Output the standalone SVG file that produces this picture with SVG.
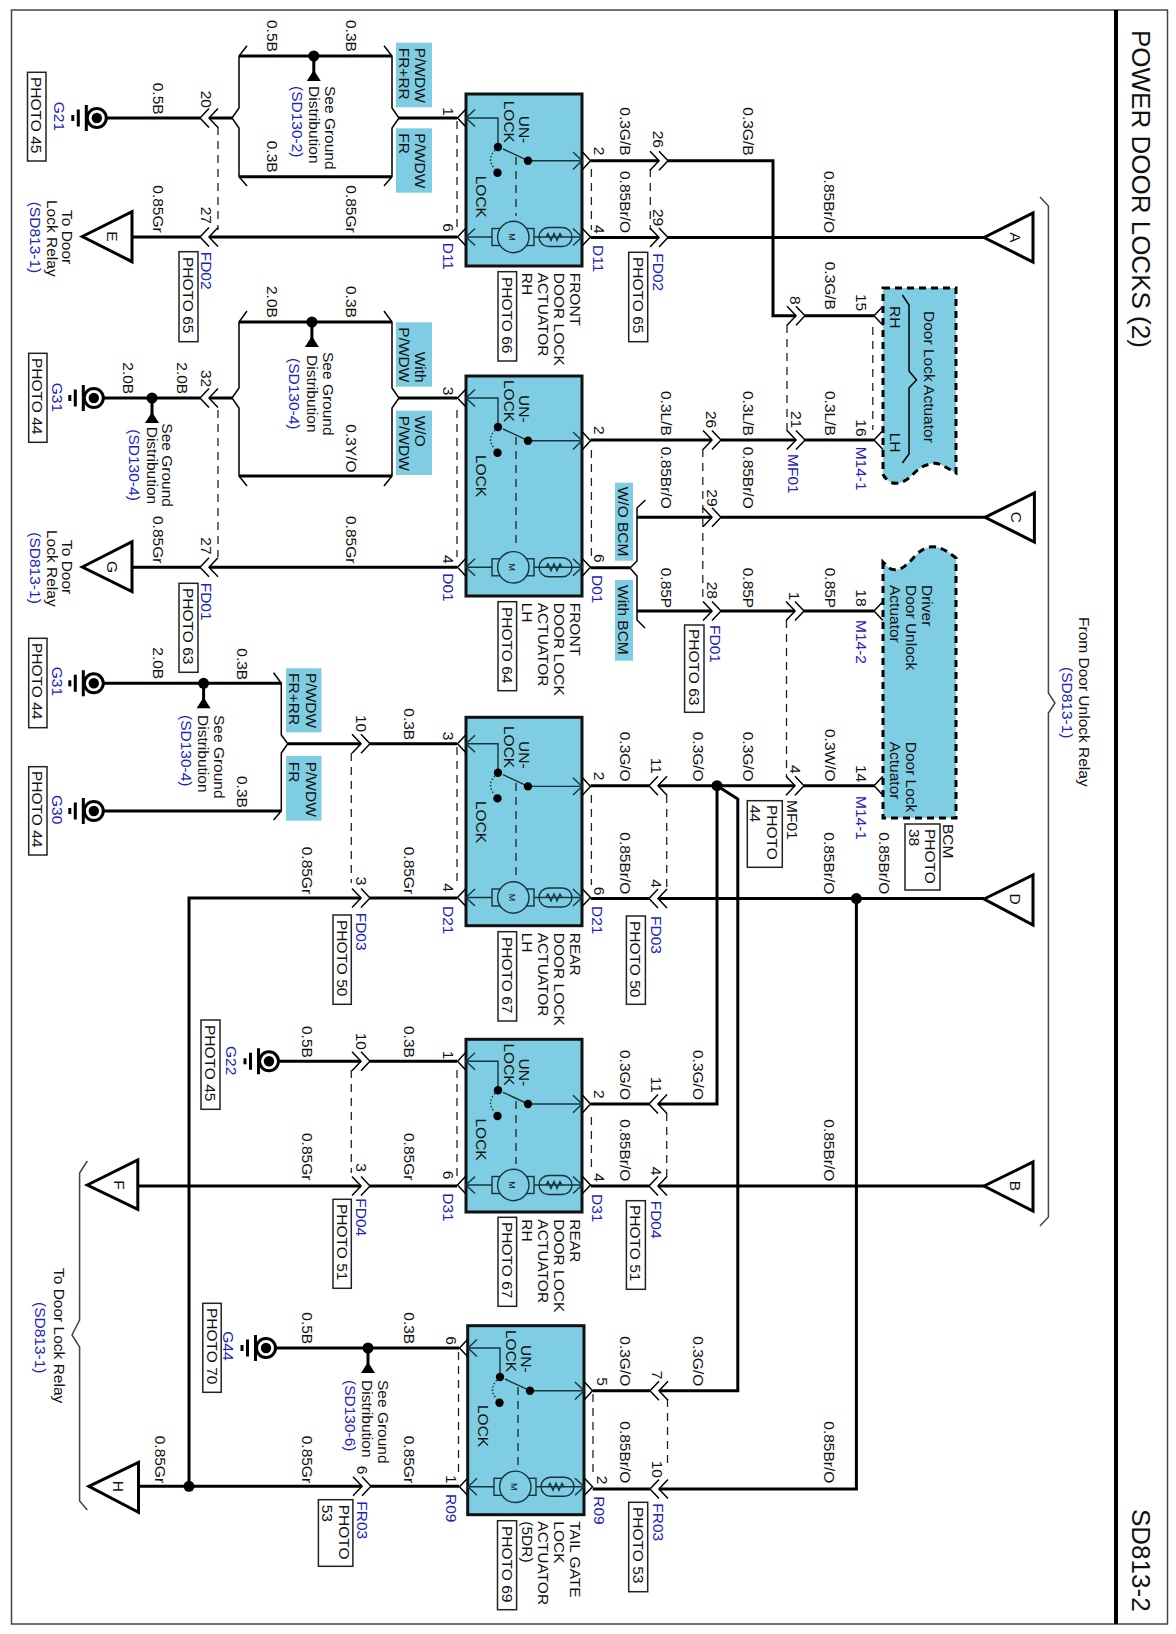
<svg xmlns="http://www.w3.org/2000/svg" width="1176" height="1634" viewBox="0 0 1176 1634">
<style>
text{font-family:"Liberation Sans",Arial,sans-serif;font-size:15.5px;fill:#111}
.b{fill:#2222bb}
.h{font-size:26px}
.w{fill:none;stroke:#000;stroke-width:3}
.n{fill:none;stroke:#000;stroke-width:1.5}
.g{fill:none;stroke:#444;stroke-width:1.5}
.d{fill:none;stroke:#222;stroke-width:1.3;stroke-dasharray:8 6}
.p{fill:#fff;stroke:#222;stroke-width:1.5}
.a{fill:#7fcde2}
.box{fill:#7fcde2;stroke:#111;stroke-width:3}
.dsh{fill:#7fcde2;stroke:#000;stroke-width:3;stroke-dasharray:7 5}
.tri{fill:#fff;stroke:#000;stroke-width:3}
.i{fill:none;stroke:#16343f;stroke-width:1.4}
</style>
<defs>
<g id="cr" class="n"><path d="M-9,-9.5L0,0L-9,9.5M0,-9.5L9,0L0,9.5"/></g>
<g id="cl" class="n"><path d="M9,-9.5L0,0L9,9.5M18,-9.5L9,0L18,9.5"/></g>
<path id="rc" class="n" d="M9,-9.5L0,0L9,9.5"/>
<g id="gnd"><circle r="9.5" fill="#fff" stroke="#000" stroke-width="3"/><circle r="5.2" fill="#000"/><path class="w" d="M-10.5,-13V13M-18.5,-8.5V8.5"/><path class="w" d="M-24,-3V3"/></g>
<g id="sd"><path class="w" d="M0,0V20"/><circle r="5.5" fill="#000"/><path d="M0,14L7,25H-7Z" fill="#000"/></g>
<g id="sw">
<path class="i" d="M0,0H32V29M62,42.7L37,31M62,42.7H116"/>
<path class="i" d="M9,-8.5L0,0L9,8.5M107,34L116,42.7L107,51.4"/>
<path class="n" d="M-0.5,-8.5L-8.5,0L-0.5,8.5M116.5,34L124.5,42.7L116.5,51.4"/>
<path d="M29,32Q20,42 29,51" fill="none" stroke="#16343f" stroke-width="1.4" stroke-dasharray="1.5 2"/>
<circle cx="32" cy="29" r="4.2"/><circle cx="31.5" cy="54.7" r="4.2"/><circle cx="62" cy="42.7" r="4.2"/>
</g>
<g id="mt">
<path class="i" d="M0,0H26M68,0H116"/>
<path class="i" d="M9,-8.5L0,0L9,8.5M107,-8.5L116,0L107,8.5"/>
<path class="n" d="M-0.5,-8.5L-8.5,0L-0.5,8.5M116.5,-8.5L124.5,0L116.5,8.5"/>
<rect class="i" x="26" y="-8.5" width="42" height="17"/>
<circle class="a" cx="47.3" r="15.7" stroke="#16343f" stroke-width="1.4"/>
<rect class="i" x="73" y="-9.5" width="33" height="19" rx="9.5"/>
<path class="i" d="M80,0L82,-3.5L85,3.5L88,-3.5L91,3.5L94,-3.5L96,0"/>
</g>
</defs>
<rect width="1176" height="1634" fill="#fff"/>
<g id="frame">
<rect x="11.5" y="10" width="1156" height="1614" fill="none" stroke="#444" stroke-width="1.5"/>
<path d="M1116,10V1624" fill="none" stroke="#000" stroke-width="4"/>
<text class="h" transform="translate(1131.5 30)rotate(90)">POWER DOOR LOCKS (2)</text>
<text class="h" transform="translate(1131.5 1509)rotate(90)">SD813-2</text>
</g>
<g id="annotations">
<path class="g" d="M1040,197L1048.4,206V693L1055,703L1048.4,713V1217L1040,1226"/>
<text transform="translate(1079 617)rotate(90)">From Door Unlock Relay</text>
<text class="b" transform="translate(1062 667)rotate(90)">(SD813-1)</text>
<path class="g" d="M87.3,1161L79.6,1173V1320L72,1335L79.6,1347V1501L87.3,1510"/>
<text transform="translate(53.6 1268)rotate(90)">To Door Lock Relay</text>
<text class="b" transform="translate(35.2 1302)rotate(90)">(SD813-1)</text>
<g id="optcodes">
<rect class="a" x="396" y="42.7" width="36" height="64.6"/><text transform="translate(415 47.7)rotate(90)">P/WDW</text><text transform="translate(399 47.7)rotate(90)">FR+RR</text>
<rect class="a" x="396" y="128.3" width="36" height="64.4"/><text transform="translate(415 133.3)rotate(90)">P/WDW</text><text transform="translate(399 133.3)rotate(90)">FR</text>
<rect class="a" x="396" y="322.3" width="36" height="64.4"/><text transform="translate(415 351.7)rotate(90)">With</text><text transform="translate(399 327.3)rotate(90)">P/WDW</text>
<rect class="a" x="396" y="410.7" width="36" height="64.3"/><text transform="translate(415 415.7)rotate(90)">W/O</text><text transform="translate(399 415.7)rotate(90)">P/WDW</text>
<rect class="a" x="286" y="668.3" width="35.5" height="64"/><text transform="translate(306 673)rotate(90)">P/WDW</text><text transform="translate(289 673)rotate(90)">FR+RR</text>
<rect class="a" x="286" y="756" width="35.5" height="64.7"/><text transform="translate(306 761.7)rotate(90)">P/WDW</text><text transform="translate(289 761.7)rotate(90)">FR</text>
<rect class="a" x="615" y="482.7" width="18" height="78"/><text transform="translate(618 486.7)rotate(90)">W/O BCM</text>
<rect class="a" x="615" y="580" width="18" height="80.7"/><text transform="translate(618 585)rotate(90)">With BCM</text>
</g>
</g>
<g id="connectors">
<path class="w" d="M107,118H200M209.7,118H232M399,118H457M239,56H392M239,176.7H392"/>
<path class="w" d="M132,237H200M209.7,237H457"/>
<path class="w" d="M590.7,160.7H659M668,160.7H773V315.7H796M805,315.7H874"/>
<path class="w" d="M590.7,237.5H659M668,237.5H984"/>
<path class="w" d="M104,398H200M209.7,398H232M399,398H457M239,322H392M239,476H392"/>
<path class="w" d="M132,567.3H200M209.7,567.3H457"/>
<path class="w" d="M590.7,440H712M721,440H796M805,440H874"/>
<path class="w" d="M590.7,567.7H630M637,517.3H712M721,517.3H985M637,611H712M721,611H795M804,611H874"/>
<path class="w" d="M104,683.3H281.3M287.8,743.7H361M370,743.7H457M104,811H281.3"/>
<path class="w" d="M590.7,785.7H649M658,785.7H795M804,785.7H874"/>
<path class="w" d="M717,785.7V1104H658M717,785.7L737.8,799V1390.7H659"/>
<path class="w" d="M590.7,1104H649M592.7,1390.7H650"/>
<path class="w" d="M189,1486.3V898H361M370,898H457"/>
<path class="w" d="M590.7,898.6H649M658,898.6H984M856.4,898.6V1489H659M592.7,1489H650"/>
<path class="w" d="M280,1061.3H361M370,1061.3H457"/>
<path class="w" d="M137.8,1186H361M370,1186H457M590.7,1186H649M658,1186H984"/>
<path class="w" d="M277,1348H459M138.5,1486.3H362M371,1486.3H459"/>
<path class="n" d="M247,45.7L239,56V108L232,118L239,128V176.7L247,186M384,45.7L392,56V108L399,118L392,128V176.7L384,186"/>
<path class="n" d="M247,311L239,322V388L232,398L239,408V476L247,486M384,311L392,322V388L399,398L392,408V476L384,486"/>
<path class="n" d="M273.6,672.7L281.3,683.3V735L287.8,743.7L281.3,753V811L273.6,820"/>
<path class="n" d="M645.4,500L637,508V561L630,568L637,576V620L645,628"/>
<path class="d" d="M218,127V230M457,121V233M591.4,169V230M650.3,169V230M218,410V557M457,410V557M591.4,450V560M702.8,449V602M787,325V432M872.8,327V430M786.5,620V777M351.3,753V883M457,747V887M591.4,795V885M666.7,795V892M351.3,1070V1173M457,1070V1177M591.4,1117V1168M666.7,1113V1177M458.5,1352V1476M593,1394V1476M667.5,1399V1464"/>
<use href="#cl" x="200" y="118"/><use href="#cl" x="200" y="237"/><use href="#cl" x="200" y="398"/><use href="#cl" x="200" y="567.3"/>
<use href="#cr" x="659" y="160.7"/><use href="#cr" x="659" y="237.5"/><use href="#cr" x="796" y="315.7"/><use href="#cr" x="712" y="440"/><use href="#cr" x="796" y="440"/><use href="#cr" x="712" y="517.3"/><use href="#cr" x="712" y="611"/><use href="#cr" x="795" y="611"/><use href="#cr" x="795" y="785.7"/>
<use href="#cl" x="649" y="785.7"/><use href="#cl" x="649" y="898.6"/><use href="#cl" x="649" y="1104"/><use href="#cl" x="649" y="1186"/><use href="#cl" x="650" y="1390.7"/><use href="#cl" x="650" y="1489"/>
<use href="#cr" x="361" y="743.7"/><use href="#cr" x="361" y="898"/><use href="#cr" x="361" y="1061.3"/><use href="#cr" x="361" y="1186"/><use href="#cr" x="362" y="1486.3"/>
<use href="#rc" x="874" y="315.7"/><use href="#rc" x="874" y="440"/><use href="#rc" x="874" y="611"/><use href="#rc" x="874" y="785.7"/>
<circle cx="717" cy="785.7" r="5.5"/><circle cx="856.4" cy="898.6" r="5.5"/><circle cx="189" cy="1486.3" r="5.5"/>
<g id="wirelabels">
<text transform="translate(153 82.7)rotate(90)">0.5B</text><text transform="translate(267 20)rotate(90)">0.5B</text><text transform="translate(345.6 20)rotate(90)">0.3B</text><text transform="translate(267 140.7)rotate(90)">0.3B</text><text transform="translate(345.6 185.3)rotate(90)">0.85Gr</text><text transform="translate(153 185.3)rotate(90)">0.85Gr</text>
<text transform="translate(201 90.7)rotate(90)">20</text><text transform="translate(201 206.7)rotate(90)">27</text><text class="b" transform="translate(201 251.7)rotate(90)">FD02</text>
<text transform="translate(620 107.3)rotate(90)">0.3G/B</text><text transform="translate(742.7 107.3)rotate(90)">0.3G/B</text><text transform="translate(653 130.7)rotate(90)">26</text><text transform="translate(620 171)rotate(90)">0.85Br/O</text><text transform="translate(824 171)rotate(90)">0.85Br/O</text><text transform="translate(653 209)rotate(90)">29</text><text class="b" transform="translate(653 253.3)rotate(90)">FD02</text>
<text transform="translate(824.5 261.7)rotate(90)">0.3G/B</text><text transform="translate(790 296)rotate(90)">8</text><text transform="translate(855.7 294)rotate(90)">15</text>
<text transform="translate(267 286)rotate(90)">2.0B</text><text transform="translate(345.6 286)rotate(90)">0.3B</text><text transform="translate(345.6 424.3)rotate(90)">0.3Y/O</text><text transform="translate(123.2 362.3)rotate(90)">2.0B</text><text transform="translate(176.8 362.3)rotate(90)">2.0B</text><text transform="translate(201 370)rotate(90)">32</text>
<text transform="translate(153 516)rotate(90)">0.85Gr</text><text transform="translate(345.6 516)rotate(90)">0.85Gr</text><text transform="translate(201 537.3)rotate(90)">27</text><text class="b" transform="translate(201 582.7)rotate(90)">FD01</text>
<text transform="translate(660.6 391)rotate(90)">0.3L/B</text><text transform="translate(742.7 391)rotate(90)">0.3L/B</text><text transform="translate(824.5 391)rotate(90)">0.3L/B</text><text transform="translate(705.5 411)rotate(90)">26</text><text transform="translate(791 411)rotate(90)">21</text><text transform="translate(856 419.3)rotate(90)">16</text><text class="b" transform="translate(788 454)rotate(90)">MF01</text><text class="b" transform="translate(855.7 446.7)rotate(90)">M14-1</text>
<text transform="translate(660.6 446.7)rotate(90)">0.85Br/O</text><text transform="translate(742.7 446.7)rotate(90)">0.85Br/O</text><text transform="translate(707.4 489.3)rotate(90)">29</text>
<text transform="translate(660.6 567.7)rotate(90)">0.85P</text><text transform="translate(742.7 567.7)rotate(90)">0.85P</text><text transform="translate(824.5 567.7)rotate(90)">0.85P</text><text transform="translate(707.4 581.7)rotate(90)">28</text><text transform="translate(789 591.7)rotate(90)">1</text><text transform="translate(855.7 589.3)rotate(90)">18</text><text class="b" transform="translate(710.4 625)rotate(90)">FD01</text><text class="b" transform="translate(855.7 620)rotate(90)">M14-2</text>
<text transform="translate(237.3 648.3)rotate(90)">0.3B</text><text transform="translate(153 647.3)rotate(90)">2.0B</text><text transform="translate(237.3 776)rotate(90)">0.3B</text><text transform="translate(356 715)rotate(90)">10</text><text transform="translate(403.7 708.3)rotate(90)">0.3B</text>
<text transform="translate(301.6 846.7)rotate(90)">0.85Gr</text><text transform="translate(403.7 846.7)rotate(90)">0.85Gr</text><text transform="translate(356 876.7)rotate(90)">3</text><text class="b" transform="translate(356 912.7)rotate(90)">FD03</text>
<text transform="translate(620 731.7)rotate(90)">0.3G/O</text><text transform="translate(693 731.7)rotate(90)">0.3G/O</text><text transform="translate(742.7 731.7)rotate(90)">0.3G/O</text><text transform="translate(824.5 729)rotate(90)">0.3W/O</text><text transform="translate(651 757.7)rotate(90)">11</text><text transform="translate(790 765)rotate(90)">4</text><text transform="translate(856 765)rotate(90)">14</text><text class="b" transform="translate(855.7 796)rotate(90)">M14-1</text><text transform="translate(787 800)rotate(90)">MF01</text>
<text transform="translate(620 832.3)rotate(90)">0.85Br/O</text><text transform="translate(824 832.3)rotate(90)">0.85Br/O</text><text transform="translate(878.5 832.3)rotate(90)">0.85Br/O</text><text transform="translate(651 879.3)rotate(90)">4</text><text class="b" transform="translate(651 916)rotate(90)">FD03</text>
<text transform="translate(301.6 1026)rotate(90)">0.5B</text><text transform="translate(356 1032.7)rotate(90)">10</text><text transform="translate(403.7 1026)rotate(90)">0.3B</text><text transform="translate(301.6 1133)rotate(90)">0.85Gr</text><text transform="translate(403.7 1133)rotate(90)">0.85Gr</text><text transform="translate(356 1163.3)rotate(90)">3</text><text class="b" transform="translate(356 1198.3)rotate(90)">FD04</text>
<text transform="translate(620 1050)rotate(90)">0.3G/O</text><text transform="translate(693 1050)rotate(90)">0.3G/O</text><text transform="translate(651 1076.7)rotate(90)">11</text><text transform="translate(620 1119.3)rotate(90)">0.85Br/O</text><text transform="translate(824 1119.3)rotate(90)">0.85Br/O</text><text transform="translate(651 1166.7)rotate(90)">4</text><text class="b" transform="translate(651 1200.7)rotate(90)">FD04</text>
<text transform="translate(301.6 1312.3)rotate(90)">0.5B</text><text transform="translate(403.7 1312.3)rotate(90)">0.3B</text><text transform="translate(155 1435.7)rotate(90)">0.85Gr</text><text transform="translate(301.6 1435.7)rotate(90)">0.85Gr</text><text transform="translate(403.7 1435.7)rotate(90)">0.85Gr</text><text transform="translate(356.7 1465.7)rotate(90)">6</text><text class="b" transform="translate(356.7 1501.3)rotate(90)">FR03</text>
<text transform="translate(620 1336.3)rotate(90)">0.3G/O</text><text transform="translate(693 1336.3)rotate(90)">0.3G/O</text><text transform="translate(652 1370.7)rotate(90)">7</text><text transform="translate(620 1421.3)rotate(90)">0.85Br/O</text><text transform="translate(824 1421.3)rotate(90)">0.85Br/O</text><text transform="translate(652 1460.7)rotate(90)">10</text><text class="b" transform="translate(653.4 1503.3)rotate(90)">FR03</text>
</g>
<g id="photos">
<rect class="p" x="179" y="251.7" width="19" height="90"/><text transform="translate(183 257)rotate(90)">PHOTO 65</text>
<rect class="p" x="628.7" y="252.3" width="19" height="89.4"/><text transform="translate(632.7 257)rotate(90)">PHOTO 65</text>
<rect class="p" x="179" y="583.3" width="19" height="89"/><text transform="translate(183 588)rotate(90)">PHOTO 63</text>
<rect class="p" x="684.6" y="625" width="19.4" height="87.3"/><text transform="translate(688.5 629)rotate(90)">PHOTO 63</text>
<rect class="p" x="333" y="915" width="18.3" height="89.3"/><text transform="translate(336.8 920)rotate(90)">PHOTO 50</text>
<rect class="p" x="626.4" y="916" width="19" height="88.3"/><text transform="translate(630.4 921)rotate(90)">PHOTO 50</text>
<rect class="p" x="333" y="1199.3" width="18.3" height="89"/><text transform="translate(336.8 1204)rotate(90)">PHOTO 51</text>
<rect class="p" x="626.4" y="1200.7" width="19" height="88.6"/><text transform="translate(630.4 1205)rotate(90)">PHOTO 51</text>
<rect class="p" x="628.7" y="1502.3" width="19" height="89.4"/><text transform="translate(632.7 1507)rotate(90)">PHOTO 53</text>
<rect class="p" x="318.4" y="1499.7" width="34.5" height="66.6"/><text transform="translate(338.7 1504.7)rotate(90)">PHOTO</text><text transform="translate(321.5 1504.7)rotate(90)">53</text>
<rect class="p" x="747.3" y="800.7" width="35" height="66.6"/><text transform="translate(767 805)rotate(90)">PHOTO</text><text transform="translate(750.3 805)rotate(90)">44</text>
</g>
</g>
<g id="ground-G21"><use href="#gnd" x="96.8" y="118"/><text class="b" transform="translate(54.3 101.7)rotate(90)">G21</text><rect class="p" x="27.5" y="72.3" width="18.5" height="88.7"/><text transform="translate(31.2 77)rotate(90)">PHOTO 45</text></g>
<g id="ground-G31a"><use href="#gnd" x="93.8" y="398"/><text class="b" transform="translate(51.7 382.7)rotate(90)">G31</text><rect class="p" x="28.7" y="353.3" width="18.3" height="89"/><text transform="translate(32.4 358)rotate(90)">PHOTO 44</text></g>
<g id="ground-G31b"><use href="#gnd" x="93.8" y="683.3"/><text class="b" transform="translate(51.7 666.7)rotate(90)">G31</text><rect class="p" x="28.7" y="638.3" width="18.3" height="89.4"/><text transform="translate(32.4 643)rotate(90)">PHOTO 44</text></g>
<g id="ground-G30"><use href="#gnd" x="93.8" y="811"/><text class="b" transform="translate(51.7 795)rotate(90)">G30</text><rect class="p" x="28.7" y="766.7" width="18.3" height="88.3"/><text transform="translate(32.4 771)rotate(90)">PHOTO 44</text></g>
<g id="ground-G22"><use href="#gnd" x="269" y="1061.3"/><text class="b" transform="translate(225.8 1046)rotate(90)">G22</text><rect class="p" x="201" y="1020" width="19" height="89.3"/><text transform="translate(205 1025)rotate(90)">PHOTO 45</text></g>
<g id="ground-G44"><use href="#gnd" x="266" y="1348"/><text class="b" transform="translate(223 1331.3)rotate(90)">G44</text><rect class="p" x="202.8" y="1303.3" width="18.4" height="89"/><text transform="translate(206.6 1308)rotate(90)">PHOTO 70</text></g>
<g id="sd-1"><use href="#sd" x="313.8" y="56"/><text transform="translate(324.5 86)rotate(90)">See Ground</text><text transform="translate(308.5 86)rotate(90)">Distribution</text><text class="b" transform="translate(291.6 86)rotate(90)">(SD130-2)</text></g>
<g id="sd-2"><use href="#sd" x="311.9" y="322"/><text transform="translate(323.4 352)rotate(90)">See Ground</text><text transform="translate(307.3 355)rotate(90)">Distribution</text><text class="b" transform="translate(289 358)rotate(90)">(SD130-4)</text></g>
<g id="sd-3"><use href="#sd" x="152" y="398"/><text transform="translate(162 423.3)rotate(90)">See Ground</text><text transform="translate(146.6 426.7)rotate(90)">Distribution</text><text class="b" transform="translate(129.4 429.3)rotate(90)">(SD130-4)</text></g>
<g id="sd-4"><use href="#sd" x="203.6" y="683.3"/><text transform="translate(214.3 715)rotate(90)">See Ground</text><text transform="translate(198.2 715)rotate(90)">Distribution</text><text class="b" transform="translate(180.6 715)rotate(90)">(SD130-4)</text></g>
<g id="sd-5"><use href="#sd" x="368" y="1348"/><text transform="translate(378 1380)rotate(90)">See Ground</text><text transform="translate(361.7 1380)rotate(90)">Distribution</text><text class="b" transform="translate(345.2 1380)rotate(90)">(SD130-6)</text></g>
<g id="tri-A"><path class="tri" d="M984,237.5L1033,213V262Z"/><text text-anchor="middle" transform="translate(1010 237.5)rotate(90)">A</text></g>
<g id="tri-B"><path class="tri" d="M984,1186L1033,1162V1211Z"/><text text-anchor="middle" transform="translate(1010 1186)rotate(90)">B</text></g>
<g id="tri-C"><path class="tri" d="M985,517.3L1034.4,493V542Z"/><text text-anchor="middle" transform="translate(1011 517.3)rotate(90)">C</text></g>
<g id="tri-D"><path class="tri" d="M984,899L1033,875V925Z"/><text text-anchor="middle" transform="translate(1010 899)rotate(90)">D</text></g>
<g id="tri-E"><path class="tri" d="M82.3,236.5L132,211.7V261.7Z"/><text text-anchor="middle" transform="translate(106.5 236.5)rotate(90)">E</text></g>
<g id="tri-F"><path class="tri" d="M87.3,1185L137.8,1160V1209.3Z"/><text text-anchor="middle" transform="translate(114 1185)rotate(90)">F</text></g>
<g id="tri-G"><path class="tri" d="M82.3,567L132,541.7V591.7Z"/><text text-anchor="middle" transform="translate(106.5 567)rotate(90)">G</text></g>
<g id="tri-H"><path class="tri" d="M88.8,1486.3L138.5,1462.3V1512.3Z"/><text text-anchor="middle" transform="translate(113 1486.3)rotate(90)">H</text></g>
<g id="lbl-EG">
<text transform="translate(62.4 210)rotate(90)">To Door</text><text transform="translate(46.7 200)rotate(90)">Lock Relay</text><text class="b" transform="translate(29.9 201.7)rotate(90)">(SD813-1)</text>
<text transform="translate(62.4 540)rotate(90)">To Door</text><text transform="translate(46.7 530)rotate(90)">Lock Relay</text><text class="b" transform="translate(29.9 532.3)rotate(90)">(SD813-1)</text>
</g>
<g id="door-lock-actuator">
<path class="dsh" d="M883,288H956V473C945,467 938,461 930,464C918,467 915,473 910,477C903,484 893,485 889,481C885,478 883,476 883,473Z"/>
<path class="n" d="M902.4,295L909,305V371L916.5,380L909,388V454L902.4,463"/>
<text transform="translate(924 311)rotate(90)">Door Lock Actuator</text>
<text transform="translate(890 306)rotate(90)">RH</text><text transform="translate(890 432.7)rotate(90)">LH</text>
</g>
<g id="bcm">
<path class="dsh" d="M883,562V818H956V558C945,549 938,546 930,547C918,549 913,560 906,565C900,571 892,571 888,567Z"/>
<text transform="translate(922 585)rotate(90)">Driver</text><text transform="translate(906 585)rotate(90)">Door Unlock</text><text transform="translate(890 585)rotate(90)">Actuator</text>
<text transform="translate(906 741.7)rotate(90)">Door Lock</text><text transform="translate(890 741.7)rotate(90)">Actuator</text>
<text transform="translate(943 824)rotate(90)">BCM</text>
<rect class="p" x="905" y="824" width="35" height="66"/><text transform="translate(925 829)rotate(90)">PHOTO</text><text transform="translate(909 829)rotate(90)">38</text>
</g>
<g id="actuator-D11">
<rect class="box" x="466" y="94" width="116" height="172"/>
<use href="#sw" x="466" y="118"/><use href="#mt" x="466" y="237"/>
<path class="d" d="M516,157V216"/>
<text text-anchor="middle" style="font-size:9px" transform="translate(509 237)rotate(90)">M</text>
<text transform="translate(519 115.7)rotate(90)">UN-</text><text transform="translate(504 100.7)rotate(90)">LOCK</text><text transform="translate(476 175.7)rotate(90)">LOCK</text>
<text transform="translate(442.8 107.3)rotate(90)">1</text><text transform="translate(442.8 223.3)rotate(90)">6</text><text class="b" transform="translate(442.8 242.7)rotate(90)">D11</text>
<text transform="translate(594 146.7)rotate(90)">2</text><text transform="translate(594 225)rotate(90)">4</text><text class="b" transform="translate(592.5 245)rotate(90)">D11</text>
<text transform="translate(570 272.7)rotate(90)">FRONT</text><text transform="translate(553.8 272.7)rotate(90)">DOOR LOCK</text><text transform="translate(537.7 272.7)rotate(90)">ACTUATOR</text><text transform="translate(521.6 272.7)rotate(90)">RH</text>
<rect class="p" x="498" y="271.7" width="18.6" height="89.3"/><text transform="translate(501.8 277)rotate(90)">PHOTO 66</text>
</g>
<g id="actuator-D01">
<rect class="box" x="466" y="376" width="116" height="220"/>
<use href="#sw" x="466" y="398"/><use href="#mt" x="466" y="567.3"/>
<path class="d" d="M516,437V546"/>
<text text-anchor="middle" style="font-size:9px" transform="translate(509 567.3)rotate(90)">M</text>
<text transform="translate(519 395)rotate(90)">UN-</text><text transform="translate(504 380)rotate(90)">LOCK</text><text transform="translate(476 455)rotate(90)">LOCK</text>
<text transform="translate(442.8 386.7)rotate(90)">3</text><text transform="translate(442.8 555)rotate(90)">4</text><text class="b" transform="translate(442.8 573.3)rotate(90)">D01</text>
<text transform="translate(594 426)rotate(90)">2</text><text transform="translate(594 554)rotate(90)">6</text><text class="b" transform="translate(592 575)rotate(90)">D01</text>
<text transform="translate(570 602.7)rotate(90)">FRONT</text><text transform="translate(553.8 602.7)rotate(90)">DOOR LOCK</text><text transform="translate(537.7 602.7)rotate(90)">ACTUATOR</text><text transform="translate(521.6 602.7)rotate(90)">LH</text>
<rect class="p" x="498" y="601.7" width="18.6" height="89"/><text transform="translate(501.8 607)rotate(90)">PHOTO 64</text>
</g>
<g id="actuator-D21">
<rect class="box" x="466" y="717.3" width="116" height="208.4"/>
<use href="#sw" x="466" y="743.7"/><use href="#mt" x="466" y="897.5"/>
<path class="d" d="M516,783V876"/>
<text text-anchor="middle" style="font-size:9px" transform="translate(509 897.5)rotate(90)">M</text>
<text transform="translate(519 741)rotate(90)">UN-</text><text transform="translate(504 726)rotate(90)">LOCK</text><text transform="translate(476 801)rotate(90)">LOCK</text>
<text transform="translate(442.8 731.7)rotate(90)">3</text><text transform="translate(442.8 883.3)rotate(90)">4</text><text class="b" transform="translate(442.8 906)rotate(90)">D21</text>
<text transform="translate(594 771.7)rotate(90)">2</text><text transform="translate(594 886.7)rotate(90)">6</text><text class="b" transform="translate(592 906)rotate(90)">D21</text>
<text transform="translate(570 932.7)rotate(90)">REAR</text><text transform="translate(553.8 932.7)rotate(90)">DOOR LOCK</text><text transform="translate(537.7 932.7)rotate(90)">ACTUATOR</text><text transform="translate(521.6 932.7)rotate(90)">LH</text>
<rect class="p" x="498" y="931.7" width="18.6" height="89.3"/><text transform="translate(501.8 937)rotate(90)">PHOTO 67</text>
</g>
<g id="actuator-D31">
<rect class="box" x="466" y="1039.3" width="116" height="172.7"/>
<use href="#sw" x="466" y="1061.3"/><use href="#mt" x="466" y="1185"/>
<path class="d" d="M516,1101V1164"/>
<text text-anchor="middle" style="font-size:9px" transform="translate(509 1185)rotate(90)">M</text>
<text transform="translate(519 1058.5)rotate(90)">UN-</text><text transform="translate(504 1043.5)rotate(90)">LOCK</text><text transform="translate(476 1118.5)rotate(90)">LOCK</text>
<text transform="translate(442.8 1050.7)rotate(90)">1</text><text transform="translate(442.8 1170.7)rotate(90)">6</text><text class="b" transform="translate(442.8 1193.3)rotate(90)">D31</text>
<text transform="translate(594 1090)rotate(90)">2</text><text transform="translate(594 1173.3)rotate(90)">4</text><text class="b" transform="translate(592 1194)rotate(90)">D31</text>
<text transform="translate(570 1219.3)rotate(90)">REAR</text><text transform="translate(553.8 1219.3)rotate(90)">DOOR LOCK</text><text transform="translate(537.7 1219.3)rotate(90)">ACTUATOR</text><text transform="translate(521.6 1219.3)rotate(90)">RH</text>
<rect class="p" x="498" y="1217.3" width="18.6" height="89"/><text transform="translate(501.8 1222)rotate(90)">PHOTO 67</text>
</g>
<g id="actuator-R09">
<rect class="box" x="467.7" y="1325.7" width="116.3" height="189"/>
<use href="#sw" x="468" y="1348"/><use href="#mt" x="468" y="1486.8"/>
<path class="d" d="M518,1387V1465"/>
<text text-anchor="middle" style="font-size:9px" transform="translate(511 1486.8)rotate(90)">M</text>
<text transform="translate(521 1345)rotate(90)">UN-</text><text transform="translate(506 1330)rotate(90)">LOCK</text><text transform="translate(478 1405)rotate(90)">LOCK</text>
<text transform="translate(445.8 1336.3)rotate(90)">6</text><text transform="translate(445.8 1475)rotate(90)">1</text><text class="b" transform="translate(445.8 1494)rotate(90)">R09</text>
<text transform="translate(597 1377.3)rotate(90)">5</text><text transform="translate(597 1475.7)rotate(90)">2</text><text class="b" transform="translate(594.4 1496.3)rotate(90)">R09</text>
<text transform="translate(570.2 1521.3)rotate(90)">TAIL GATE</text><text transform="translate(553.8 1521.3)rotate(90)">LOCK</text><text transform="translate(537.7 1521.3)rotate(90)">ACTUATOR</text><text transform="translate(522.4 1521.3)rotate(90)">(5DR)</text>
<rect class="p" x="497.5" y="1520.7" width="19.1" height="89"/><text transform="translate(501.6 1526)rotate(90)">PHOTO 69</text>
</g>
</svg>
